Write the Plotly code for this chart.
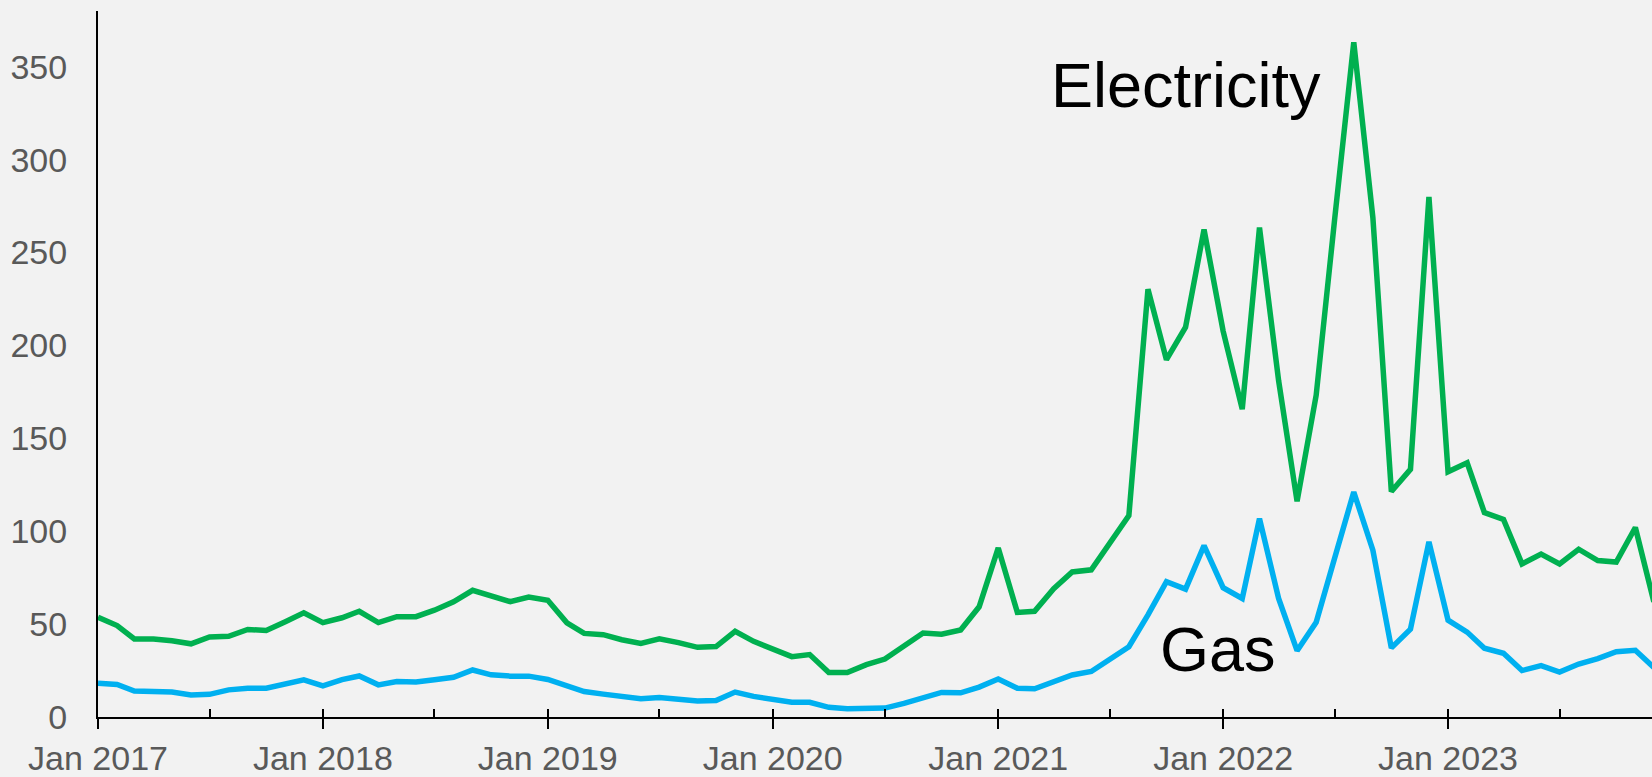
import pandas as pd
import plotly.graph_objects as go

months = pd.date_range("2017-01-01", "2023-12-01", freq="MS")

electricity = [
    53.7, 49.2, 42.0, 42.0, 41.0, 39.4, 43.1, 43.4, 47.1, 46.6, 51.3, 56.1,
    50.8, 53.4, 56.9, 50.8, 54.0, 54.0, 57.5, 62.0, 68.2, 65.0, 62.1, 64.6,
    62.8, 50.7, 45.0, 44.3, 41.6, 39.6, 42.1, 40.0, 37.5, 37.9, 46.1, 40.7,
    36.6, 32.5, 33.6, 23.9, 23.9, 28.2, 31.2, 37.9, 45.2, 44.6, 46.8, 59.3,
    91.0, 56.3, 56.9, 69.1, 78.1, 79.2, 94.0, 108.4, 230.3, 192.3, 209.8, 262.4,
    207.7, 165.7, 263.4, 181.1, 116.1, 173.2, 268.0, 363.2, 268.8, 121.4, 133.3, 279.9,
    132.0, 136.8, 110.0, 106.3, 82.4, 87.7, 82.4, 90.3, 84.2, 83.4, 102.0, 62.0,
]

gas = [
    18.2, 17.5, 14.0, 13.7, 13.5, 11.9, 12.2, 14.6, 15.5, 15.5, 18.0, 20.0,
    16.7, 20.1, 22.1, 17.3, 19.1, 18.8, 20.0, 21.4, 25.3, 22.7, 22.0, 22.0,
    20.2, 16.4, 13.7, 12.3, 11.1, 9.8, 10.5, 9.8, 8.6, 8.9, 13.4, 11.1,
    9.3, 7.9, 7.9, 5.2, 4.5, 4.8, 4.8, 7.3, 10.5, 13.2, 13.0, 16.1,
    20.5, 15.5, 15.2, 18.6, 22.6, 24.5, 31.4, 37.8, 55.0, 72.8, 68.8, 92.2,
    69.6, 63.8, 106.8, 63.8, 35.7, 51.0, 85.6, 121.1, 89.8, 37.2, 47.3, 94.3,
    52.1, 45.7, 37.0, 34.3, 25.0, 27.7, 24.2, 28.5, 31.4, 35.1, 35.9, 26.6,
]

series_labels = ["Electricity", "Gas"]

x_range = ["2017-01-01", "2023-11-28"]
y_range = [0, 380]

GREEN = "#00b050"
BLUE = "#00b0f0"
BG = "#f2f2f2"
TICK_GRAY = "#595959"
FONT = "Liberation Sans, Arial, sans-serif"

fig = go.Figure()
fig.add_trace(go.Scatter(x=months, y=electricity, mode="lines", name=series_labels[0],
                         line=dict(color=GREEN, width=5.5), xaxis="x", yaxis="y"))
fig.add_trace(go.Scatter(x=months, y=gas, mode="lines", name=series_labels[1],
                         line=dict(color=BLUE, width=5.5), xaxis="x2", yaxis="y"))

fig.update_layout(
    width=1652, height=777,
    margin=dict(l=98, r=0, t=11, b=57, pad=0),
    paper_bgcolor=BG, plot_bgcolor=BG,
    showlegend=False,
    font=dict(family=FONT, color=TICK_GRAY, size=34),
    xaxis=dict(
        type="date", range=x_range, showgrid=False, zeroline=False,
        showline=True, linecolor="black", linewidth=2,
        ticks="outside", ticklen=10, tickwidth=2, tickcolor="black",
        dtick="M12", tick0="2017-01-01", tickformat="%b %Y",
        tickfont=dict(family=FONT, size=34, color=TICK_GRAY),
    ),
    xaxis2=dict(
        type="date", range=x_range, overlaying="x", anchor="y", side="bottom",
        showgrid=False, zeroline=False, showline=False,
        ticks="inside", ticklen=8, tickwidth=2, tickcolor="black",
        dtick="M6", tick0="2017-01-01", showticklabels=False,
    ),
    yaxis=dict(
        range=y_range, dtick=50, showgrid=False, zeroline=False,
        showline=True, linecolor="black", linewidth=2,
        ticks="", ticklabelstandoff=22,
        tickfont=dict(family=FONT, size=34, color=TICK_GRAY),
    ),
    annotations=[
        dict(text=series_labels[0], xref="paper", yref="paper",
             x=(1049 - 98) / 1554, y=(720 - 85) / 709, xanchor="left", yanchor="middle",
             showarrow=False, font=dict(family=FONT, size=63, color="black")),
        dict(text=series_labels[1], xref="paper", yref="paper",
             x=(1158 - 98) / 1554, y=(720 - 652) / 709, xanchor="left", yanchor="middle",
             showarrow=False, font=dict(family=FONT, size=63, color="black")),
    ],
)

fig.write_html("out.html")
